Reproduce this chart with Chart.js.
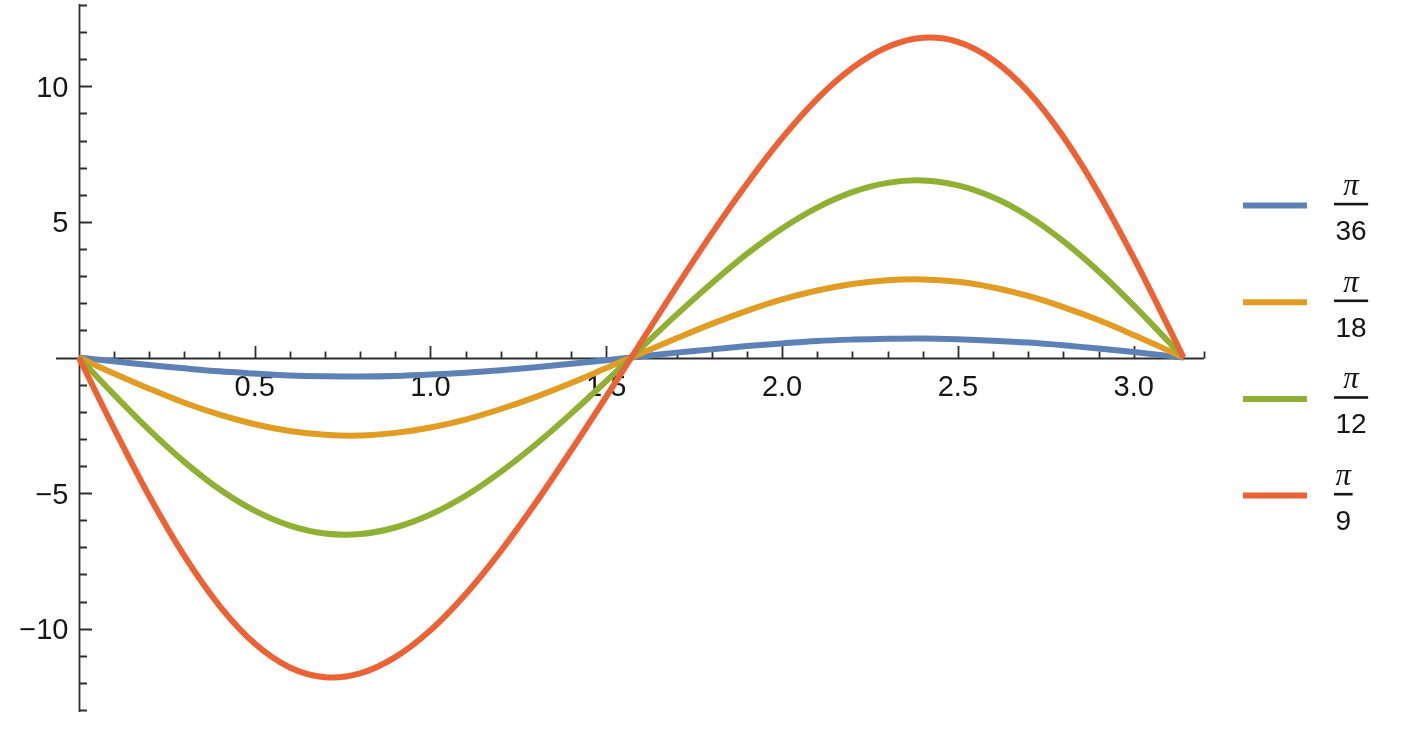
<!DOCTYPE html>
<html>
<head>
<meta charset="utf-8">
<title>Curves for four angles</title>
<script src="https://cdn.jsdelivr.net/npm/chart.js@4.4.1/dist/chart.umd.min.js"></script>
<style>
  html, body { margin: 0; padding: 0; background: #ffffff; }
  #wrap { width: 1417px; height: 745px; }
</style>
</head>
<body>
<div id="wrap"><canvas id="plot" width="1417" height="745"></canvas></div>
<script>
// Sample positions along the horizontal axis (0 … π)
const xValues = [0, 0.1, 0.2, 0.3, 0.4, 0.5, 0.6, 0.7, 0.8, 0.9, 1.0, 1.1, 1.2, 1.3, 1.4, 1.5,
                 1.6, 1.7, 1.8, 1.9, 2.0, 2.1, 2.2, 2.3, 2.4, 2.5, 2.6, 2.7, 2.8, 2.9, 3.0, 3.1, 3.1416];

// Curve values, one array per angle
const valuesPi36 = [0, -0.14, -0.28, -0.40, -0.51, -0.59, -0.66, -0.69, -0.70, -0.68, -0.63, -0.56, -0.47, -0.36, -0.23, -0.10,
                    0.04, 0.18, 0.30, 0.42, 0.52, 0.61, 0.66, 0.69, 0.70, 0.67, 0.62, 0.55, 0.45, 0.33, 0.20, 0.06, 0];
const valuesPi18 = [0, -0.59, -1.15, -1.67, -2.11, -2.46, -2.71, -2.85, -2.88, -2.78, -2.58, -2.29, -1.90, -1.45, -0.94, -0.39,
                    0.16, 0.71, 1.24, 1.72, 2.14, 2.47, 2.71, 2.85, 2.88, 2.79, 2.58, 2.27, 1.86, 1.38, 0.83, 0.25, 0];
const valuesPi12 = [0, -1.37, -2.67, -3.85, -4.86, -5.65, -6.20, -6.49, -6.51, -6.27, -5.79, -5.10, -4.22, -3.20, -2.07, -0.87,
                    0.36, 1.58, 2.74, 3.82, 4.76, 5.53, 6.10, 6.44, 6.53, 6.35, 5.91, 5.22, 4.29, 3.18, 1.92, 0.57, 0];
const valuesPi9  = [0, -2.62, -5.11, -7.32, -9.16, -10.55, -11.43, -11.79, -11.65, -11.05, -10.06, -8.73, -7.14, -5.35, -3.43, -1.44,
                    0.59, 2.61, 4.57, 6.41, 8.09, 9.54, 10.68, 11.45, 11.79, 11.64, 10.97, 9.80, 8.14, 6.07, 3.68, 1.10, 0];

// Legend fractions: π over each denominator
const legendNumerator = 'π';
const legendDenominators = ['36', '18', '12', '9'];

// Axis tick labels
const xTickValues = [0.5, 1.0, 1.5, 2.0, 2.5, 3.0];
const xTickLabels = ['0.5', '1.0', '1.5', '2.0', '2.5', '3.0'];
const yTickValues = [10, 5, -5, -10];
const yTickLabels = ['10', '5', '\u22125', '\u221210'];

const seriesValues = [valuesPi36, valuesPi18, valuesPi12, valuesPi9];
const seriesColors = ['#5e81b5', '#e19c24', '#8fb032', '#eb6235'];

const AXIS_COLOR = '#2e2e2e';
const TICK_FONT = '29px "Liberation Sans", Arial, sans-serif';

// Axes crossing at the origin, with inward ticks, drawn beneath the curves
const originAxes = {
  id: 'originAxes',
  beforeDatasetsDraw(chart) {
    const { ctx, chartArea } = chart;
    const xs = chart.scales.x, ys = chart.scales.y;
    const x0 = Math.round(xs.getPixelForValue(0)) + 0.5;
    const y0 = Math.round(ys.getPixelForValue(0)) + 0.5;
    ctx.save();
    ctx.strokeStyle = AXIS_COLOR;
    ctx.lineWidth = 1.8;
    ctx.beginPath();
    ctx.moveTo(chartArea.left, y0);
    ctx.lineTo(chartArea.right, y0);
    ctx.moveTo(x0, chartArea.top - 1);
    ctx.lineTo(x0, chartArea.bottom + 2);
    // horizontal axis: minor every 0.1, major every 0.5
    for (let i = 1; i <= 32; i++) {
      const px = Math.round(xs.getPixelForValue(i / 10)) + 0.5;
      const len = (i % 5 === 0) ? 12.5 : 7;
      ctx.moveTo(px, y0);
      ctx.lineTo(px, y0 - len);
    }
    // vertical axis: minor every 1, major every 5
    for (let v = -13; v <= 13; v++) {
      if (v === 0) continue;
      const py = Math.round(ys.getPixelForValue(v)) + 0.5;
      const len = (v % 5 === 0) ? 12.5 : 7.5;
      ctx.moveTo(x0, py);
      ctx.lineTo(x0 + len, py);
    }
    ctx.stroke();

    ctx.fillStyle = '#161616';
    ctx.font = TICK_FONT;
    ctx.textBaseline = 'alphabetic';
    ctx.textAlign = 'center';
    xTickValues.forEach((v, i) => {
      ctx.fillText(xTickLabels[i], xs.getPixelForValue(v), y0 + 37.5);
    });
    ctx.textAlign = 'right';
    yTickValues.forEach((v, i) => {
      ctx.fillText(yTickLabels[i], x0 - 11, ys.getPixelForValue(v) + 10.5);
    });
    ctx.restore();
  }
};

// Legend on the right: coloured swatch followed by the fraction π / n
const fractionLegend = {
  id: 'fractionLegend',
  afterDraw(chart) {
    const { ctx, chartArea } = chart;
    const sx0 = chartArea.right + 39, sx1 = chartArea.right + 103;
    const barLeft = chartArea.right + 130;
    ctx.save();
    chart.data.datasets.forEach((ds, i) => {
      const cy = 205.5 + i * 96.7;
      ctx.strokeStyle = ds.borderColor;
      ctx.lineWidth = 6;
      ctx.beginPath();
      ctx.moveTo(sx0, cy);
      ctx.lineTo(sx1, cy);
      ctx.stroke();

      const den = legendDenominators[i];
      ctx.font = '28px "Liberation Sans", Arial, sans-serif';
      const w = ctx.measureText(den).width + 3;
      const mid = barLeft + w / 2;
      const barY = cy - 1.5;
      ctx.fillStyle = '#161616';
      ctx.fillRect(barLeft, barY - 1.2, w, 2.6);
      ctx.textAlign = 'center';
      ctx.textBaseline = 'alphabetic';
      ctx.fillText(den, mid, barY + 36);
      ctx.font = 'italic 31px "Liberation Serif", "Times New Roman", serif';
      ctx.fillText(legendNumerator, mid, barY - 9);
    });
    ctx.restore();
  }
};

const datasets = seriesValues.map((vals, i) => ({
  label: legendNumerator + '/' + legendDenominators[i],
  data: xValues.map((x, k) => ({ x: x, y: vals[k] })),
  borderColor: seriesColors[i],
  backgroundColor: seriesColors[i],
  borderWidth: 6,
  pointRadius: 0,
  fill: false,
  tension: 0.34,
  order: seriesValues.length - 1 - i
}));

new Chart(document.getElementById('plot'), {
  type: 'line',
  data: { datasets: datasets },
  options: {
    responsive: false,
    animation: false,
    events: [],
    layout: { padding: { left: 56, right: 213, top: 5, bottom: 35 } },
    scales: {
      x: { type: 'linear', min: -0.065, max: 3.2, display: false },
      y: { type: 'linear', min: -13, max: 13, display: false }
    },
    plugins: {
      legend: { display: false },
      tooltip: { enabled: false }
    }
  },
  plugins: [originAxes, fractionLegend]
});
</script>
</body>
</html>
